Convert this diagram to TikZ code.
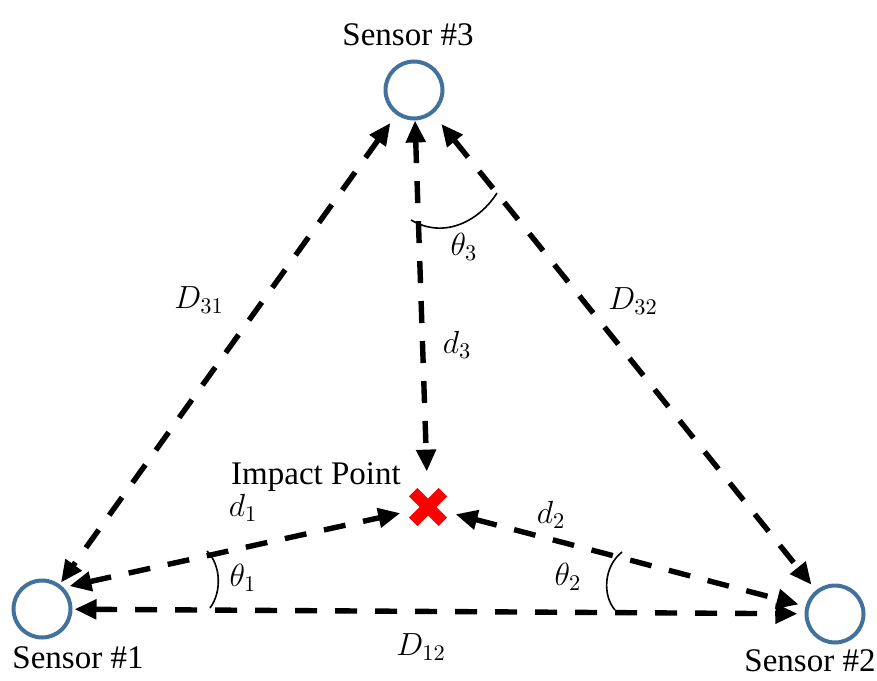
\RequirePackage{fix-cm}
\documentclass[tikz,border=0pt]{standalone}
\usepackage{fontspec}
\setmainfont{Liberation Serif}
\usetikzlibrary{arrows.meta}
\definecolor{sensorblue}{RGB}{65,113,156}
\definecolor{impactred}{RGB}{255,0,0}

\begin{document}
\begin{tikzpicture}[x=0.5pt, y=-0.5pt,
		sensor/.style={circle, draw=sensorblue, line width=2pt, minimum size=28.5pt, inner sep=0pt},
		impact/.style={circle, minimum size=28pt, inner sep=0pt},
		distarrow/.style={line width=2.7pt, dash pattern=on 11pt off 9pt, {Triangle[length=11pt,width=9.5pt]}-{Triangle[length=11pt,width=9.5pt]}},
		angarc/.style={line width=0.8pt},
		txt/.style={font=\fontsize{16.5}{19}\selectfont, anchor=base, inner sep=0pt},
		lbl/.style={font=\fontsize{16}{19}\selectfont, inner sep=0pt}]
			\useasboundingbox (0,0) rectangle (877,680);
			\node[sensor] (s1) at (42,609) {};
			\node[sensor] (s2) at (835,614) {};
			\node[sensor] (s3) at (414,90) {};
			\node[impact] (imp) at (428,507) {};
			\draw[impactred, line width=6pt] (imp.center) +(-14.8,-14.8) -- +(14.8,14.8);
			\draw[impactred, line width=6pt] (imp.center) +(-14.8,14.8) -- +(14.8,-14.8);
			\node[txt] (n1) at (78,668) {Sensor \#1};
			\node[txt] (n2) at (810,671) {Sensor \#2};
			\node[txt] (n3) at (408,45) {Sensor \#3};
			\node[txt] (np) at (316,484) {Impact Point};
			\draw[distarrow, shorten <=1pt, shorten >=3.5pt] (s1) -- (s2);
			\draw[distarrow, shorten <=5pt, shorten >=1pt] (s3) -- (s1);
			\draw[distarrow, shorten <=6.5pt, shorten >=3.5pt] (s3) -- (s2);
			\draw[distarrow, shorten >=3.5pt] (s3) -- (imp);
			\draw[distarrow, shorten <=3pt] (s1.45) -- (imp);
			\draw[distarrow, shorten >=3.5pt] (imp) -- (s2);
			\draw[angarc] (210,608) .. controls (222,592) and (221,565) .. (207,551);
			\draw[angarc] (622,552) .. controls (604,566) and (602,595) .. (615,610);
			\draw[angarc] (411,220) .. controls (445,240) and (480,220) .. (497,193);
			\node[lbl] (D31) at (199,300) {$D_{31}$};
			\node[lbl] (D32) at (633,301) {$D_{32}$};
			\node[lbl] (D12) at (421,647) {$D_{12}$};
			\node[lbl] (d3) at (457,345) {$d_3$};
			\node[lbl] (d1) at (243,508) {$d_1$};
			\node[lbl] (d2) at (551,515) {$d_2$};
			\node[lbl] (t1) at (243,578) {$\theta_1$};
			\node[lbl] (t2) at (568,577) {$\theta_2$};
			\node[lbl] (t3) at (464,247) {$\theta_3$};
	\end{tikzpicture}
\end{document}
